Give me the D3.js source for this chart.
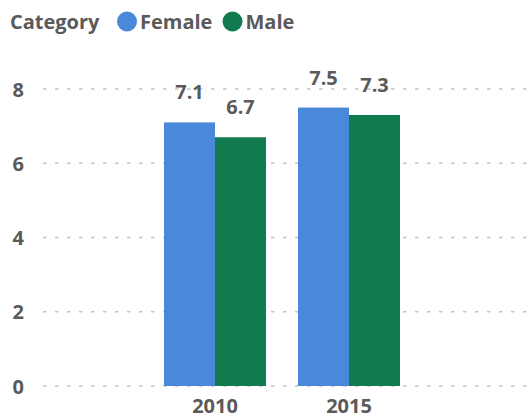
<!DOCTYPE html>
<html>
<head>
<meta charset="utf-8">
<script src="https://cdn.jsdelivr.net/npm/d3@7"></script>
<style>
  html, body { margin: 0; padding: 0; background: #fff; }
  svg { display: block; }
  text { font-family: "Open Sans", "Segoe UI", sans-serif; font-weight: 700; fill: #5a5a5a; }
</style>
</head>
<body>
<svg id="chart" width="531" height="418"></svg>
<script>
const categories = ["2010", "2015"];
const seriesNames = ["Female", "Male"];
const female = [7.1, 7.5];
const male = [6.7, 7.3];
const yTicks = [0, 2, 4, 6, 8];
const legendTitle = "Category";
const colors = ["#4a88da", "#127a4f"];

const data = categories.map((c, i) => ({ cat: c, values: [female[i], male[i]] }));

const svg = d3.select("#chart");
const W = 531;
const FS = "20px";

const y = d3.scaleLinear().domain([0, 8]).range([386, 89]);
const x0 = d3.scaleBand().domain(categories).range([148, 416]).paddingInner(0.2388).paddingOuter(0.1194);
const x1 = d3.scaleBand().domain(seriesNames).range([0, x0.bandwidth()]);
const color = d3.scaleOrdinal().domain(seriesNames).range(colors);

// y axis labels
const yAxis = d3.axisLeft(y).tickValues(yTicks).tickSize(0).tickPadding(0).tickFormat(d3.format("d"));
const gy = svg.append("g").attr("transform", "translate(24,0)").call(yAxis);
gy.select(".domain").remove();
gy.selectAll("text").attr("x", 0).attr("dy", "0.35em").style("font-size", FS).attr("text-anchor", "end");

// gridlines
svg.append("g").selectAll("line").data(yTicks).join("line")
  .attr("x1", 43).attr("x2", W)
  .attr("y1", d => y(d)).attr("y2", d => y(d))
  .attr("stroke", "#c4c4c4").attr("stroke-width", 1.5)
  .attr("stroke-dasharray", "3.5,8.5");

// bars
const groups = svg.append("g").selectAll("g").data(data).join("g")
  .attr("transform", d => `translate(${x0(d.cat)},0)`);

groups.selectAll("rect").data(d => d.values.map((v, i) => ({ key: seriesNames[i], v })))
  .join("rect")
  .attr("x", d => x1(d.key))
  .attr("width", x1.bandwidth())
  .attr("y", d => y(d.v))
  .attr("height", d => y(0) - y(d.v))
  .attr("fill", d => color(d.key));

groups.selectAll("text.lbl").data(d => d.values.map((v, i) => ({ key: seriesNames[i], v })))
  .join("text").attr("class", "lbl")
  .attr("x", d => x1(d.key) + x1.bandwidth() / 2)
  .attr("y", d => y(d.v) - 23)
  .attr("text-anchor", "middle")
  .style("font-size", FS)
  .text(d => d3.format(".1f")(d.v));

// x axis
const xAxis = d3.axisBottom(x0).tickSize(0).tickPadding(0);
const gx = svg.append("g").attr("transform", "translate(0,413)").call(xAxis);
gx.select(".domain").remove();
gx.selectAll("text").attr("y", 0).attr("dy", 0).style("font-size", FS);

// legend
const lg = svg.append("g");
lg.append("text").attr("x", 10).attr("y", 29).style("font-size", FS).text(legendTitle);
const legendX = [127, 232.5];
seriesNames.forEach((s, i) => {
  lg.append("circle").attr("cx", legendX[i]).attr("cy", 21.5).attr("r", 10).attr("fill", color(s));
  lg.append("text").attr("x", legendX[i] + 13).attr("y", 29).style("font-size", FS).text(s);
});
</script>
</body>
</html>
